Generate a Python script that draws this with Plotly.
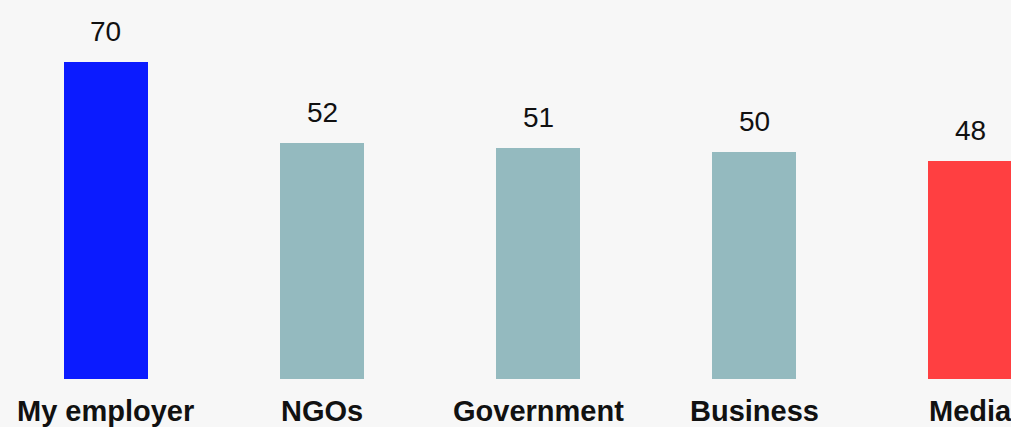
import plotly.graph_objects as go

# Trust index by institution
categories = ["My employer", "NGOs", "Government", "Business", "Media"]
values = [70, 52, 51, 50, 48]
bar_colors = ["#0b1bff", "#94babf", "#94babf", "#94babf", "#ff3f41"]

positions = list(range(len(categories)))
font_family = "Liberation Sans, Arial, sans-serif"

fig = go.Figure(
    go.Bar(
        x=positions,
        y=values,
        width=0.389,
        marker=dict(color=bar_colors, line=dict(width=0)),
        hoverinfo="skip",
    )
)

# Value labels above each bar
for xpos, val in zip(positions, values):
    fig.add_annotation(
        x=xpos, y=val, text=str(val), showarrow=False,
        yanchor="bottom", yshift=13,
        font=dict(family=font_family, size=28, color="#111111"),
    )

# Category names under the bars
for xpos, name in zip(positions, categories):
    fig.add_annotation(
        x=xpos, xref="x", y=0, yref="paper", text=f"<b>{name}</b>",
        showarrow=False, yanchor="top", yshift=-14,
        font=dict(family=font_family, size=29, color="#111111"),
    )

fig.update_layout(
    width=1011, height=427,
    margin=dict(l=0, r=0, t=0, b=48),
    paper_bgcolor="#f7f7f7",
    plot_bgcolor="#f7f7f7",
    showlegend=False,
    bargap=0,
)
fig.update_xaxes(
    range=[-0.4907, 4.1898],
    showticklabels=False, automargin=False,
    showgrid=False, zeroline=False, showline=False, ticks="",
)
fig.update_yaxes(
    range=[0, 83.6], automargin=False,
    visible=False, showgrid=False, zeroline=False,
)

fig.write_html("out.html")
